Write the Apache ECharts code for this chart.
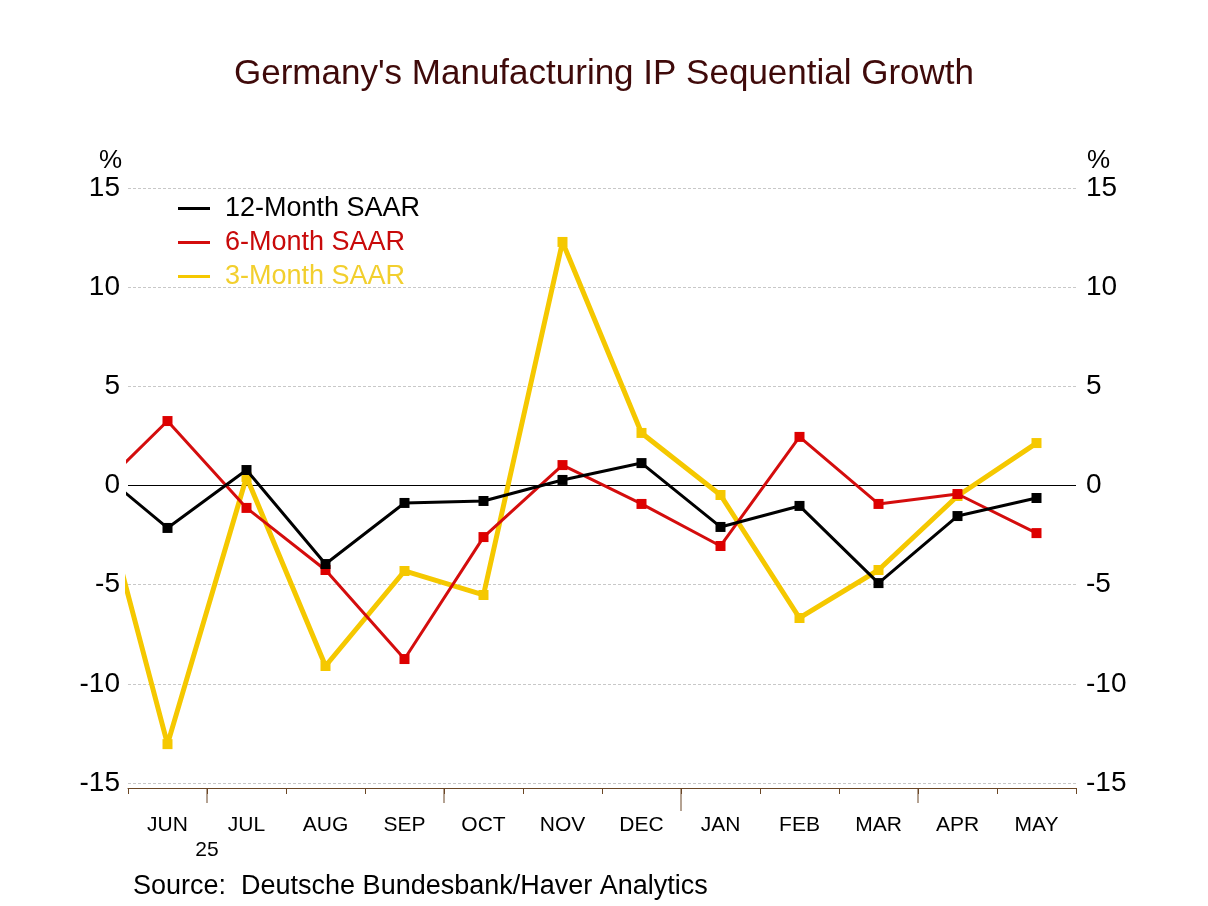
<!DOCTYPE html>
<html>
<head>
<meta charset="utf-8">
<script src="https://cdn.jsdelivr.net/npm/echarts@6/dist/echarts.min.js"></script>
<style>
html,body{margin:0;padding:0;background:#fff;}
#chart{width:1208px;height:906px;}
</style>
</head>
<body>
<div id="chart"></div>
<script>
// Months shown on the axis (first data point is the prior month, partly clipped at the left edge)
const months = ['JUN','JUL','AUG','SEP','OCT','NOV','DEC','JAN','FEB','MAR','APR','MAY'];
const yearLabel = '25';
const seriesNames = ['12-Month SAAR','6-Month SAAR','3-Month SAAR'];
// values: prior month (MAY, clipped), then JUN .. MAY
const saar12 = [1.18, -2.14, 0.78, -3.96, -0.88, -0.78, 0.28, 1.13, -2.09, -1.03, -4.92, -1.54, -0.63];
const saar6  = [-0.67, 3.25, -1.13, -4.26, -8.75, -2.6, 1.03, -0.93, -3.05, 2.45, -0.93, -0.43, -2.4];
const saar3  = [2.04, -13.04, 0.43, -9.1, -4.31, -5.52, 12.28, 2.65, -0.48, -6.68, -4.26, -0.53, 2.14];

const FONT = '"Liberation Sans", Arial, Helvetica, sans-serif';
const colors = ['#000000', '#d40d0d', '#f5c800'];
const markerColors = ['#000000', '#dd0000', '#f5c800'];
const legendTextColors = ['#000000', '#c80a0a', '#f2cf2e'];
const lineWidths = [3, 3, 5];
const AXIS_BROWN = '#6b4726';

function toPoints(vals){ return vals.map((v,i)=>[i - 0.5, v]); }
const allSeriesVals = [saar12, saar6, saar3];

const chart = echarts.init(document.getElementById('chart'));
const boundaries = months.map((m,i)=>i).concat([months.length]);

const lineSeries = allSeriesVals.map((vals, k) => ({
  name: seriesNames[k],
  type: 'line',
  xAxisIndex: 0, yAxisIndex: 0,
  data: toPoints(vals),
  symbol: 'rect',
  symbolSize: 10,
  clip: true,
  z: 10 - k,
  lineStyle: { color: colors[k], width: lineWidths[k] },
  itemStyle: { color: markerColors[k] },
  animation: false,
  markLine: k === 0 ? {
    silent: true, symbol: 'none', label: {show:false},
    lineStyle: { color: '#000', width: 1, type: 'solid' },
    data: [{ yAxis: 0 }]
  } : undefined
}));

const option = {
  animation: false,
  backgroundColor: '#fff',
  title: {
    text: "Germany's Manufacturing IP Sequential Growth",
    left: 'center', top: 52,
    textStyle: { fontFamily: FONT, fontSize: 35, fontWeight: 'normal', color: '#3f0a0a' }
  },
  legend: {
    orient: 'vertical', left: 173, top: 190, itemGap: 7,
    itemWidth: 32, itemHeight: 3, icon: 'rect',
    textStyle: { fontFamily: FONT, fontSize: 27, padding: [0, 0, 0, 10] },
    data: seriesNames.map((n,k)=>({ name: n, itemStyle:{color: colors[k]}, textStyle: { color: legendTextColors[k] } }))
  },
  grid: { left: 128, right: 132, top: 188, bottom: 123, containLabel: false },
  xAxis: [
    { type: 'value', min: 0, max: 12, show: false },
    { type: 'category', data: months, boundaryGap: true, position: 'bottom', offset: 5,
      axisLine: { show: true, onZero: false, lineStyle: { color: AXIS_BROWN, width: 1 } },
      axisTick: { show: true, length: 6, lineStyle: { color: AXIS_BROWN } },
      axisLabel: { fontFamily: FONT, fontSize: 21, color: '#000', margin: 27 },
      splitLine: { show: false } }
  ],
  yAxis: [
    { type: 'value', min: -15, max: 15, interval: 5, position: 'left',
      name: '%', nameLocation: 'end', nameGap: 8,
      nameTextStyle: { fontFamily: FONT, fontSize: 26, color: '#000', align: 'right', padding: [0, 6, 0, 0] },
      axisLine: { show: false }, axisTick: { show: false },
      axisLabel: { fontFamily: FONT, fontSize: 28, color: '#000', margin: 8 },
      splitLine: { show: true, lineStyle: { color: '#c8c8c8', type: [3,2], width: 1 } } },
    { type: 'value', min: -15, max: 15, interval: 5, position: 'right',
      name: '%', nameLocation: 'end', nameGap: 8,
      nameTextStyle: { fontFamily: FONT, fontSize: 26, color: '#000', align: 'left', padding: [0, 0, 0, 11] },
      axisLine: { show: false }, axisTick: { show: false },
      axisLabel: { fontFamily: FONT, fontSize: 28, color: '#000', margin: 10 },
      splitLine: { show: false } }
  ],
  series: lineSeries.concat([
    {
      type: 'custom', name: 'ticks', xAxisIndex: 0, yAxisIndex: 0, clip: false, silent: true,
      data: boundaries.map(b => [b]),
      renderItem: function(params, api){
        const b = api.value(0);
        let len = 0;
        if (b === 7) len = 23; else if (b % 3 === 1) len = 15; else return null;
        const p = api.coord([b, -15]);
        return { type: 'line', shape: { x1: p[0], y1: p[1] + 5, x2: p[0], y2: p[1] + 5 + len },
                 style: { stroke: AXIS_BROWN, lineWidth: 1 } };
      }
    },
    {
      type: 'custom', name: 'year', xAxisIndex: 0, yAxisIndex: 0, clip: false, silent: true,
      data: [[1]],
      renderItem: function(params, api){
        const p = api.coord([api.value(0), -15]);
        return { type: 'text', x: p[0], y: p[1] + 67,
                 style: { text: yearLabel, fontFamily: FONT, fontSize: 21, fill: '#000', align: 'center', verticalAlign: 'middle' } };
      }
    }
  ]),
  graphic: [
    { type: 'text', left: 133, top: 873,
      style: { text: 'Source:  Deutsche Bundesbank/Haver Analytics', fontFamily: FONT, fontSize: 27, fill: '#000' } }
  ]
};
chart.setOption(option);
</script>
</body>
</html>
